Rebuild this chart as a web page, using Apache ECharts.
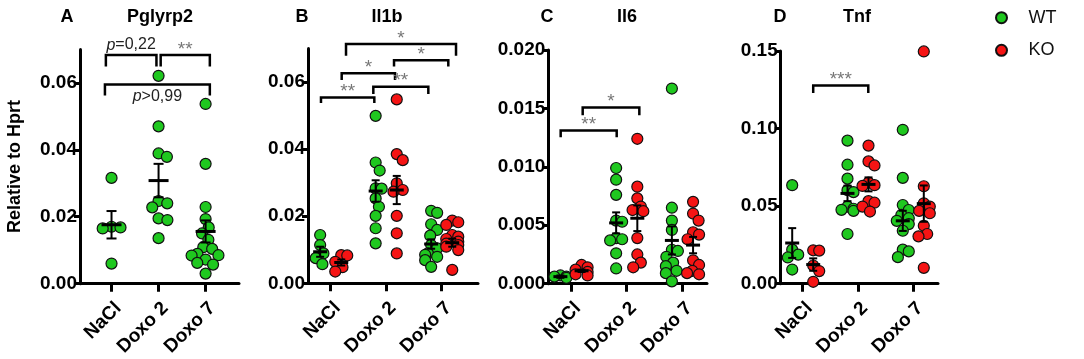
<!DOCTYPE html>
<html lang="en">
<head>
<meta charset="UTF-8">
<title>Relative to Hprt</title>
<script src="https://cdn.jsdelivr.net/npm/echarts@6.0.0/dist/echarts.min.js"></script>
<style>
    html, body { margin: 0; padding: 0; background: #fff; }
    #main { width: 1084px; height: 359px; }
</style>
</head>
<body>
<div id="main"></div>
<script>
// groups on the x axis
var groups = ['NaCl', 'Doxo 2', 'Doxo 7'];

// A - Pglyrp2 (WT only)
var pgWT = [
    [0.0316, 0.0168, 0.0165, 0.0170, 0.0060],
    [0.0621, 0.0470, 0.0389, 0.0379, 0.0247, 0.0228, 0.0240, 0.0190, 0.0195, 0.0136],
    [0.0537, 0.0358, 0.0229, 0.0193, 0.0168, 0.0150, 0.0131, 0.0109, 0.0104, 0.0085, 0.0084, 0.0089, 0.0072, 0.0062, 0.0057, 0.0030]
];
var pgWTMean = [0.0176, 0.0308, 0.0156];
var pgWTSem = [0.0041, 0.0050, 0.0033];

// B - Il1b
var il1bWT = [
    [0.0144, 0.0114, 0.0089, 0.0075, 0.0057],
    [0.0499, 0.0360, 0.0336, 0.0283, 0.0282, 0.0253, 0.0228, 0.0201, 0.0164, 0.0119],
    [0.0216, 0.0210, 0.0176, 0.0159, 0.0142, 0.0114, 0.0104, 0.0089, 0.0085, 0.0079, 0.0069, 0.0049]
];
var il1bKO = [
    [0.0084, 0.0083, 0.0064, 0.0048, 0.0035],
    [0.0548, 0.0385, 0.0367, 0.0298, 0.0278, 0.0273, 0.0201, 0.0149, 0.0089],
    [0.0187, 0.0182, 0.0174, 0.0144, 0.0139, 0.0132, 0.0124, 0.0118, 0.0114, 0.0109, 0.0099, 0.0040]
];
var il1bWTMean = [0.0094, 0.0275, 0.0117];
var il1bWTSem = [0.0015, 0.0032, 0.0014];
var il1bKOMean = [0.0062, 0.0278, 0.0121];
var il1bKOSem = [0.0009, 0.0042, 0.0012];

// C - Il6
var il6WT = [
    [0.0007, 0.0006, 0.0006, 0.0005],
    [0.0099, 0.0089, 0.0076, 0.0054, 0.0053, 0.0039, 0.0038, 0.0037, 0.0026, 0.0013],
    [0.0167, 0.0065, 0.0054, 0.0046, 0.0029, 0.0028, 0.0023, 0.0018, 0.0015, 0.0011, 0.0009, 0.0002]
];
var il6KO = [
    [0.0016, 0.0014, 0.0012, 0.0010, 0.0008, 0.0007],
    [0.0124, 0.0083, 0.0073, 0.0066, 0.0063, 0.0062, 0.0039, 0.0025, 0.0018, 0.0014],
    [0.0070, 0.0060, 0.0054, 0.0044, 0.0042, 0.0038, 0.0020, 0.0016, 0.0011, 0.0009, 0.0008]
];
var il6WTMean = [0.0006, 0.0052, 0.0037];
var il6WTSem = [0.0001, 0.0009, 0.0012];
var il6KOMean = [0.0011, 0.0056, 0.0033];
var il6KOSem = [0.0001, 0.0011, 0.0007];

// D - Tnf
var tnfWT = [
    [0.0635, 0.0219, 0.0187, 0.0169, 0.0091],
    [0.0922, 0.0767, 0.0677, 0.0603, 0.0590, 0.0497, 0.0483, 0.0476, 0.0469, 0.0320],
    [0.0992, 0.0682, 0.0507, 0.0475, 0.0443, 0.0422, 0.0405, 0.0384, 0.0341, 0.0219, 0.0208, 0.0171]
];
var tnfKO = [
    [0.0215, 0.0213, 0.0117, 0.0081, 0.0012],
    [0.0890, 0.0788, 0.0762, 0.0652, 0.0635, 0.0630, 0.0532, 0.0522, 0.0497, 0.0465],
    [0.1497, 0.0628, 0.0518, 0.0497, 0.0469, 0.0454, 0.0373, 0.0320, 0.0305, 0.0102]
];
var tnfWTMean = [0.0262, 0.0582, 0.0405];
var tnfWTSem = [0.0096, 0.0050, 0.0065];
var tnfKOMean = [0.0123, 0.0640, 0.0516];
var tnfKOSem = [0.0040, 0.0045, 0.0117];

// significance brackets: [from x, to x, bar y, leg end y, label, label side]
var pgBrackets = [
    [0.88, 1.955, 0.0683, 0.0649, 'p=0,22', 'above'],
    [2.045, 3.09, 0.0683, 0.0649, '**', 'above'],
    [0.86, 3.09, 0.0595, 0.0562, 'p>0,99', 'below']
];
var il1bBrackets = [
    [0.825, 1.786, 0.0554, 0.0537, '**', 'above'],
    [1.198, 2.159, 0.0626, 0.0606, '*', 'above'],
    [1.768, 2.759, 0.0586, 0.0564, '**', 'above'],
    [2.141, 3.119, 0.0665, 0.0646, '*', 'above'],
    [1.276, 3.258, 0.0713, 0.0678, '*', 'above']
];
var il6Brackets = [
    [0.815, 1.82, 0.0131, 0.01254, '**', 'above'],
    [1.21, 2.226, 0.01507, 0.01442, '*', 'above']
];
var tnfBrackets = [
    [1.19, 2.186, 0.1277, 0.1230, '***', 'above']
];

var GREEN = '#1fc81f';
var RED = '#f51414';
var FONT = 'Liberation Sans, Arial, sans-serif';

var panels = [
    {
        letter: 'A', gene: 'Pglyrp2', letterX: 67, geneX: 160,
        grid: {left: 80, top: 49.4, width: 159, height: 236.6},
        xMin: 0.33, xMax: 3.71, yMax: 0.07, yTicks: [0, 0.02, 0.04, 0.06], dec: 2,
        sets: [{name: 'WT', color: GREEN, vals: pgWT, mean: pgWTMean, sem: pgWTSem, off: 0}],
        brackets: pgBrackets, meanHalf: 10, capHalf: 5, spread: 14
    },
    {
        letter: 'B', gene: 'Il1b', letterX: 302, geneX: 387,
        grid: {left: 308, top: 48.4, width: 170, height: 234.9},
        xMin: 0.591, xMax: 3.654, yMax: 0.07, yTicks: [0, 0.02, 0.04, 0.06], dec: 2,
        sets: [
            {name: 'WT', color: GREEN, vals: il1bWT, mean: il1bWTMean, sem: il1bWTSem, off: -0.19},
            {name: 'KO', color: RED, vals: il1bKO, mean: il1bKOMean, sem: il1bKOSem, off: 0.19}
        ],
        brackets: il1bBrackets, meanHalf: 7, capHalf: 4, spread: 6
    },
    {
        letter: 'C', gene: 'Il6', letterX: 547, geneX: 627,
        grid: {left: 548.3, top: 50, width: 158.7, height: 236.7},
        xMin: 0.593, xMax: 3.44, yMax: 0.02, yTicks: [0, 0.005, 0.01, 0.015, 0.02], dec: 3,
        sets: [
            {name: 'WT', color: GREEN, vals: il6WT, mean: il6WTMean, sem: il6WTSem, off: -0.19},
            {name: 'KO', color: RED, vals: il6KO, mean: il6KOMean, sem: il6KOSem, off: 0.19}
        ],
        brackets: il6Brackets, meanHalf: 7, capHalf: 4, spread: 6
    },
    {
        letter: 'D', gene: 'Tnf', letterX: 780, geneX: 857,
        grid: {left: 780.7, top: 51, width: 157.3, height: 236},
        xMin: 0.602, xMax: 3.447, yMax: 0.15, yTicks: [0, 0.05, 0.1, 0.15], dec: 2,
        sets: [
            {name: 'WT', color: GREEN, vals: tnfWT, mean: tnfWTMean, sem: tnfWTSem, off: -0.19},
            {name: 'KO', color: RED, vals: tnfKO, mean: tnfKOMean, sem: tnfKOSem, off: 0.19}
        ],
        brackets: tnfBrackets, meanHalf: 7, capHalf: 4, spread: 6
    }
];

// simple beeswarm: spread points sideways (in pixels) when they would overlap
function swarm(vals, center, pxX, pxY, D, maxHalf) {
    var order = vals.map(function (v, i) { return i; })
        .sort(function (a, b) { return vals[b] - vals[a]; });
    var placed = [];
    var out = [];
    order.forEach(function (i) {
        var py = vals[i] * pxY;
        var near = placed.filter(function (p) { return Math.abs(p.py - py) < D; });
        var cands = [0];
        near.forEach(function (p) {
            var r = Math.sqrt(D * D - (p.py - py) * (p.py - py));
            cands.push(p.dx - r, p.dx + r);
        });
        cands.sort(function (a, b) { return Math.abs(a) - Math.abs(b) || b - a; });
        var dx = 0;
        for (var k = 0; k < cands.length; k++) {
            var c = cands[k];
            var ok = near.every(function (p) {
                var r = Math.sqrt(D * D - (p.py - py) * (p.py - py));
                return Math.abs(c - p.dx) >= r - 0.01;
            });
            if (ok) { dx = c; break; }
        }
        dx = Math.max(-maxHalf, Math.min(maxHalf, dx));
        placed.push({py: py, dx: dx});
        out.push([center + dx / pxX, vals[i]]);
    });
    return out;
}

var grids = [], xAxes = [], yAxes = [], series = [], titles = [];

panels.forEach(function (pn, pi) {
    grids.push(pn.grid);
    var pxX = pn.grid.width / (pn.xMax - pn.xMin);
    var pxY = pn.grid.height / pn.yMax;

    titles.push({text: pn.letter, left: pn.letterX, top: 8, textAlign: 'center', padding: 0,
        textStyle: {fontFamily: FONT, fontSize: 18, fontWeight: 'bold', color: '#000'}});
    titles.push({text: pn.gene, left: pn.geneX, top: 8, textAlign: 'center', padding: 0,
        textStyle: {fontFamily: FONT, fontSize: 18, fontWeight: 'bold', color: '#000'}});

    xAxes.push({
        type: 'value', gridIndex: pi, min: pn.xMin, max: pn.xMax,
        splitLine: {show: false},
        axisLine: {show: true, onZero: false, lineStyle: {color: '#000', width: 3}},
        axisTick: {show: true, customValues: [1, 2, 3], length: 8, lineStyle: {color: '#000', width: 3}},
        axisLabel: {
            customValues: [1, 2, 3], rotate: 45, margin: 15, verticalAlign: 'top',
            formatter: function (v) { return groups[Math.round(v) - 1]; },
            fontFamily: FONT, fontSize: 19, fontWeight: 'bold', color: '#000'
        }
    });
    var yAx = {
        type: 'value', gridIndex: pi, min: 0, max: pn.yMax,
        splitLine: {show: false},
        axisLine: {show: true, lineStyle: {color: '#000', width: 3}},
        axisTick: {show: true, customValues: pn.yTicks, length: 6, lineStyle: {color: '#000', width: 3}},
        axisLabel: {
            customValues: pn.yTicks, margin: 3,
            formatter: function (v) { return v.toFixed(pn.dec); },
            fontFamily: FONT, fontSize: 19, fontWeight: 'bold', color: '#000'
        }
    };
    if (pi === 0) {
        yAx.name = 'Relative to Hprt';
        yAx.nameLocation = 'middle';
        yAx.nameGap = 56;
        yAx.nameRotate = 90;
        yAx.nameTextStyle = {fontFamily: FONT, fontSize: 18, fontWeight: 'bold', color: '#000'};
    }
    yAxes.push(yAx);

    pn.sets.forEach(function (s) {
        var pts = [];
        s.vals.forEach(function (vals, gi) {
            pts = pts.concat(swarm(vals, gi + 1 + s.off, pxX, pxY, 9, pn.spread));
        });
        series.push({
            type: 'scatter', name: s.name, xAxisIndex: pi, yAxisIndex: pi,
            data: pts, symbol: 'circle', symbolSize: 11, z: 2,
            itemStyle: {color: s.color, borderColor: '#111', borderWidth: 1.2, opacity: 1},
            emphasis: {disabled: true}
        });
        var msData = s.mean.map(function (m, gi) { return [gi + 1 + s.off, m, s.sem[gi]]; });
        series.push({
            type: 'custom', xAxisIndex: pi, yAxisIndex: pi, z: 3, clip: false,
            data: msData, encode: {x: 0, y: 1},
            renderItem: function (params, api) {
                var x = api.value(0), m = api.value(1), e = api.value(2);
                var c = api.coord([x, m]);
                var t = api.coord([x, m + e]);
                var b = api.coord([x, m - e]);
                var ls = {stroke: '#000', lineWidth: 2};
                return {
                    type: 'group',
                    children: [
                        {type: 'line', shape: {x1: c[0], y1: t[1], x2: c[0], y2: b[1]}, style: ls},
                        {type: 'line', shape: {x1: c[0] - pn.capHalf, y1: t[1], x2: c[0] + pn.capHalf, y2: t[1]}, style: ls},
                        {type: 'line', shape: {x1: c[0] - pn.capHalf, y1: b[1], x2: c[0] + pn.capHalf, y2: b[1]}, style: ls},
                        {type: 'line', shape: {x1: c[0] - pn.meanHalf, y1: c[1], x2: c[0] + pn.meanHalf, y2: c[1]},
                            style: {stroke: '#000', lineWidth: 3}}
                    ]
                };
            }
        });
    });

    var br = pn.brackets;
    series.push({
        type: 'custom', xAxisIndex: pi, yAxisIndex: pi, z: 4, clip: false,
        data: br.map(function (b) { return [b[0], b[2]]; }),
        renderItem: function (params, api) {
            var b = br[params.dataIndex];
            var p1 = api.coord([b[0], b[3]]);
            var p2 = api.coord([b[0], b[2]]);
            var p3 = api.coord([b[1], b[2]]);
            var p4 = api.coord([b[1], b[3]]);
            var isStar = b[4].charAt(0) === '*';
            var cx = (p2[0] + p3[0]) / 2;
            var txt;
            if (isStar) {
                txt = {type: 'text', style: {
                    text: b[4], x: cx, y: p2[1] + 4, align: 'center', verticalAlign: 'bottom',
                    font: '19px ' + FONT, fill: '#777'
                }};
            } else {
                txt = {type: 'text', style: {
                    text: '{i|p}' + b[4].slice(1),
                    x: cx, y: b[5] === 'below' ? p2[1] + 4 : p2[1] - 2,
                    align: 'center', verticalAlign: b[5] === 'below' ? 'top' : 'bottom',
                    font: '16px ' + FONT, fill: '#222',
                    rich: {i: {fontStyle: 'italic', fontSize: 16, fontFamily: FONT, fill: '#222'}}
                }};
            }
            return {
                type: 'group',
                children: [
                    {type: 'polyline', shape: {points: [p1, p2, p3, p4]},
                        style: {stroke: '#000', lineWidth: 2.5, fill: null}},
                    txt
                ]
            };
        }
    });
});

var chart = echarts.init(document.getElementById('main'));
chart.setOption({
    animation: false,
    backgroundColor: '#fff',
    title: titles,
    legend: {
        orient: 'vertical', left: 995, top: 8.7, padding: 0,
        itemWidth: 44, itemHeight: 11, itemGap: 14.6, icon: 'circle',
        data: ['WT', 'KO'], selectedMode: false,
        textStyle: {fontFamily: FONT, fontSize: 18, color: '#111'}
    },
    grid: grids,
    xAxis: xAxes,
    yAxis: yAxes,
    series: series
});
</script>
</body>
</html>
